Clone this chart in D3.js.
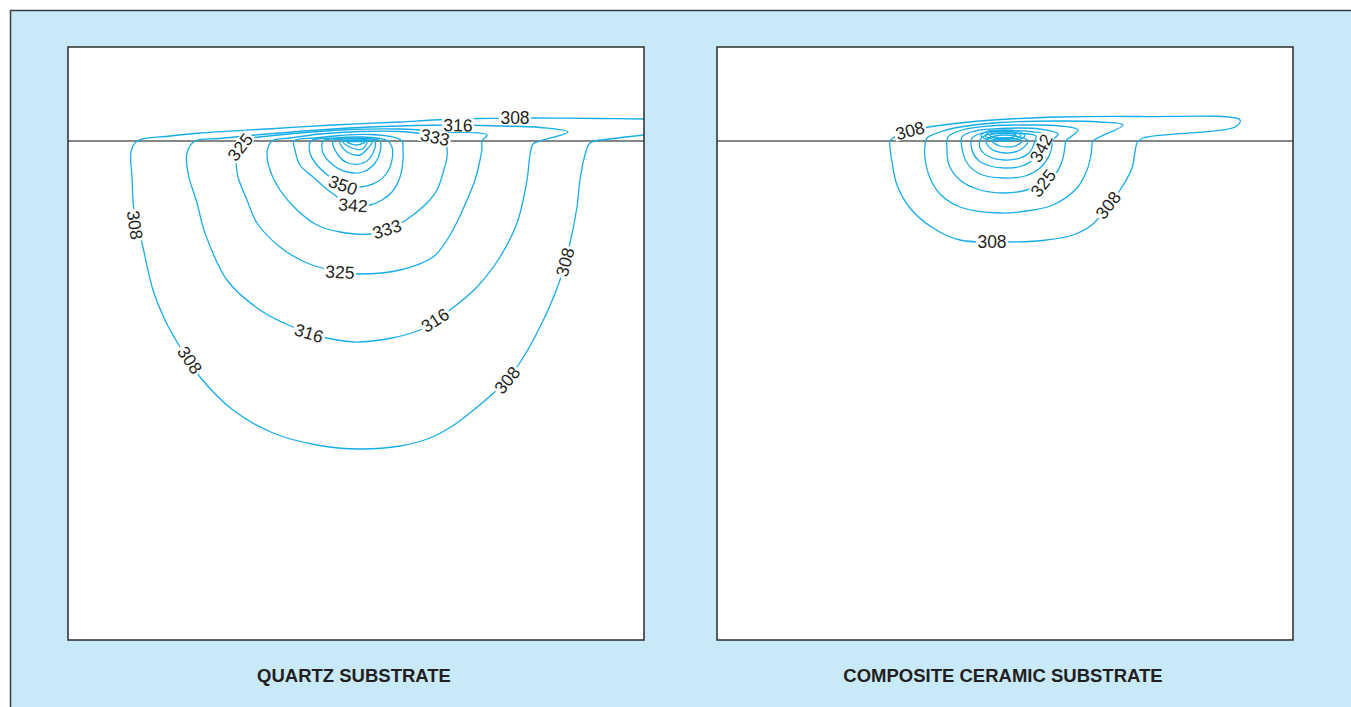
<!DOCTYPE html>
<html>
<head>
<meta charset="utf-8">
<script src="https://cdn.jsdelivr.net/npm/d3@7"></script>
<style>
  html, body { margin: 0; padding: 0; background: #fff; }
  svg { display: block; }
  .title { font-family: "Liberation Sans", Arial, Helvetica, sans-serif; font-weight: bold; font-size: 18.5px; fill: #231f20; }
  .clabel { font-family: "Liberation Sans", Arial, Helvetica, sans-serif; font-size: 17.5px; fill: #231f20; }
</style>
</head>
<body>
<svg width="1351" height="707"></svg>
<script>
// isotherms (K)
// x = lateral position in mm (0 under the heater), y = depth in mm (0 = surface, negative = air above)

// ---- quartz substrate ----
const q308 = [[2.88,-0.22],[2.44,-0.225],[1.77,-0.23],[1.24,-0.225],[0.77,-0.21],[0.44,-0.19],[-0.23,-0.16],[-0.89,-0.12],
  [-1.56,-0.08],[-1.86,-0.05],[-2.19,0],[-2.25,0.11],[-2.24,0.36],[-2.22,0.69],[-2.14,1.02],[-2.03,1.49],[-1.91,1.79],
  [-1.76,2.06],[-1.56,2.36],[-1.23,2.69],[-0.83,2.92],[-0.39,3.04],[0.04,3.08],[0.44,3.05],[0.74,2.97],[0.98,2.84],
  [1.20,2.67],[1.44,2.46],[1.61,2.26],[1.84,1.86],[2.04,1.39],[2.14,1.02],[2.21,0.66],[2.24,0.39],[2.29,0.14],[2.34,0.02],
  [2.54,-0.02],[2.88,-0.06]];
const q316 = [[1.84,0],[2.12,-0.09],[1.84,-0.135],[1.44,-0.15],[1.02,-0.16],[0.44,-0.15],[-0.23,-0.12],[-0.89,-0.07],
  [-1.36,-0.025],[-1.61,0],[-1.69,0.12],[-1.68,0.32],[-1.59,0.62],[-1.51,0.92],[-1.29,1.39],[-0.96,1.69],[-0.63,1.86],
  [-0.29,1.97],[0.04,2.01],[0.64,1.89],[0.94,1.69],[1.21,1.46],[1.44,1.16],[1.61,0.82],[1.71,0.39],[1.74,0.14],[1.77,0.03]];
const q325 = [[1.26,0],[1.31,-0.06],[0.94,-0.09],[0.44,-0.12],[-0.06,-0.115],[-0.56,-0.08],[-0.96,-0.04],[-1.19,0],
  [-1.20,0.19],[-1.18,0.36],[-1.09,0.59],[-0.99,0.82],[-0.76,1.06],[-0.49,1.22],[-0.16,1.31],[0.04,1.33],[0.44,1.29],
  [0.77,1.16],[0.91,0.99],[1.02,0.79],[1.11,0.59],[1.19,0.39],[1.24,0.19],[1.26,0.07]];
const q333 = [[0.90,0.01],[0.81,-0.04],[0.64,-0.075],[0.44,-0.095],[0.04,-0.095],[-0.36,-0.07],[-0.66,-0.03],[-0.84,0],
  [-0.89,0.12],[-0.86,0.29],[-0.76,0.49],[-0.59,0.69],[-0.39,0.84],[-0.16,0.91],[0.14,0.93],[0.31,0.88],[0.47,0.81],
  [0.57,0.74],[0.71,0.62],[0.81,0.49],[0.87,0.32],[0.91,0.16],[0.91,0.06]];
const q342 = [[0.46,0],[0.39,-0.035],[0.14,-0.065],[-0.16,-0.055],[-0.41,-0.03],[-0.62,0],[-0.61,0.09],[-0.56,0.24],
  [-0.43,0.36],[-0.28,0.49],[-0.14,0.59],[0,0.64],[0.14,0.64],[0.26,0.59],[0.36,0.51],[0.44,0.36],[0.47,0.19],[0.47,0.07]];
const q350 = [[0.32,0],[0.24,-0.025],[0.04,-0.04],[-0.21,-0.03],[-0.45,0],[-0.46,0.12],[-0.39,0.24],[-0.26,0.36],
  [-0.13,0.44],[0.04,0.46],[0.21,0.41],[0.31,0.32],[0.36,0.19],[0.36,0.06]];
const q358 = [[0.24,0],[0.16,-0.02],[-0.04,-0.03],[-0.21,-0.02],[-0.33,0],[-0.33,0.12],[-0.23,0.24],[-0.09,0.31],
  [0.07,0.31],[0.19,0.22],[0.24,0.11]];
const q366 = [[0.19,0.01],[0.09,-0.015],[-0.08,-0.02],[-0.23,0],[-0.18,0.14],[-0.08,0.22],[0.07,0.22],[0.16,0.14]];
const q375 = [[0.16,0.01],[0.04,-0.01],[-0.16,0.01],[-0.09,0.11],[0.04,0.14],[0.12,0.07]];
const q383 = [[0.11,0.01],[-0.01,0],[-0.13,0.01],[-0.04,0.07],[0.06,0.08]];
const q391 = [[0.09,0.01],[0.01,0.005],[-0.09,0.01],[0.01,0.04]];

// [value, x, y, angle]
const quartzLabels = [[308,-2.21,0.84,82],[308,-1.66,2.19,56],[308,1.51,2.39,-50],[308,2.09,1.21,-75],[308,1.59,-0.23,0],
  [316,-0.47,1.92,17],[316,0.79,1.79,-33],[316,1.02,-0.16,1],[325,-1.16,0.06,-52],[325,-0.16,1.31,3],
  [333,0.31,0.88,-18],[333,0.79,-0.04,12],[342,-0.03,0.64,4],[350,-0.13,0.44,20]];

// ---- composite ceramic substrate ----
const c308 = [[-1.15,0],[-1.05,-0.07],[-0.95,-0.105],[-0.62,-0.16],[-0.12,-0.21],[0.55,-0.24],[1.35,-0.245],[2.35,-0.21],
  [2.30,-0.14],[1.38,-0.03],[1.32,0.02],[1.30,0.11],[1.27,0.27],[1.15,0.49],[1.03,0.64],[0.88,0.83],[0.68,0.94],
  [0.42,0.99],[0.02,1.01],[-0.45,0.99],[-0.72,0.87],[-0.95,0.67],[-1.08,0.44],[-1.13,0.21],[-1.15,0.06]];
const c316 = [[0.88,0],[1.18,-0.16],[0.95,-0.19],[0.55,-0.20],[-0.05,-0.185],[-0.45,-0.14],[-0.65,-0.09],[-0.78,-0.03],
  [-0.80,0.04],[-0.80,0.17],[-0.75,0.37],[-0.65,0.53],[-0.45,0.66],[-0.05,0.72],[0.28,0.69],[0.48,0.64],[0.72,0.47],
  [0.82,0.29],[0.86,0.14],[0.87,0.04]];
const c325 = [[0.61,0],[0.73,-0.11],[0.55,-0.15],[0.25,-0.16],[-0.15,-0.15],[-0.43,-0.11],[-0.57,-0.04],[-0.58,0.09],
  [-0.56,0.24],[-0.45,0.39],[-0.28,0.48],[-0.02,0.52],[0.22,0.49],[0.40,0.41],[0.52,0.31],[0.58,0.17],[0.60,0.05]];
const c333 = [[0.47,0],[0.53,-0.07],[0.35,-0.12],[-0.05,-0.125],[-0.30,-0.10],[-0.43,-0.04],[-0.43,0.07],[-0.38,0.22],
  [-0.25,0.33],[-0.02,0.37],[0.20,0.35],[0.35,0.27],[0.44,0.15],[0.47,0.05]];
const c342 = [[0.38,0],[0.42,-0.06],[0.25,-0.095],[-0.05,-0.10],[-0.23,-0.08],[-0.33,-0.03],[-0.33,0.09],[-0.27,0.19],
  [-0.15,0.25],[0,0.27],[0.17,0.25],[0.30,0.17],[0.36,0.08]];
const c350 = [[0.30,0],[0.31,-0.05],[0.15,-0.075],[-0.07,-0.075],[-0.20,-0.055],[-0.25,-0.01],[-0.24,0.09],[-0.15,0.16],
  [0,0.19],[0.15,0.17],[0.25,0.11]];
const c358 = [[0.23,0],[0.10,-0.05],[-0.10,-0.05],[-0.19,-0.01],[-0.15,0.07],[0,0.12],[0.15,0.09]];
const c366 = [[0.17,0],[0,-0.03],[-0.13,0],[-0.05,0.05],[0.10,0.05]];
const c375 = [[0.20,-0.055],[0.14,-0.015],[-0.02,0],[-0.18,-0.015],[-0.24,-0.055],[-0.18,-0.095],[-0.02,-0.11],[0.14,-0.095]];
const c383 = [[0.16,-0.055],[0.11,-0.025],[-0.02,-0.015],[-0.15,-0.025],[-0.20,-0.055],[-0.15,-0.085],[-0.02,-0.095],[0.11,-0.085]];
const c391 = [[0.11,-0.055],[0.07,-0.035],[-0.02,-0.03],[-0.11,-0.035],[-0.15,-0.055],[-0.11,-0.075],[-0.02,-0.08],[0.07,-0.075]];

const compositeLabels = [[308,-0.95,-0.105,-15],[308,-0.13,1.01,0],[308,1.03,0.64,-52],[342,0.36,0.07,-62],[325,0.38,0.42,-52]];

const xExtent = [-2.88, 2.88];
const depthExtent = [-0.94, 4.99];

const panels = [
  { title: 'QUARTZ SUBSTRATE', left: 68, labels: quartzLabels,
    contours: [[308,q308],[316,q316],[325,q325],[333,q333],[342,q342],[350,q350],[358,q358],[366,q366],[375,q375],[383,q383],[391,q391]] },
  { title: 'COMPOSITE CERAMIC SUBSTRATE', left: 717, labels: compositeLabels,
    contours: [[308,c308],[316,c316],[325,c325],[333,c333],[342,c342],[350,c350],[358,c358],[366,c366],[375,c375],[383,c383],[391,c391]] }
];

const svg = d3.select('svg');
const panelW = 576, panelH = 593, panelTop = 47;

// outer frame
svg.append('rect')
  .attr('x', 10.5).attr('y', 10.5)
  .attr('width', 1400).attr('height', 800)
  .attr('fill', '#c7e9f8')
  .attr('stroke', '#3d3d3d')
  .attr('stroke-width', 1.5);

panels.forEach((p, i) => {
  const xScale = d3.scaleLinear().domain(xExtent).range([p.left, p.left + panelW]);
  const yScale = d3.scaleLinear().domain(depthExtent).range([panelTop, panelTop + panelH]);

  const g = svg.append('g');

  g.append('clipPath').attr('id', 'clip' + i)
    .append('rect')
      .attr('x', p.left).attr('y', panelTop)
      .attr('width', panelW).attr('height', panelH);

  g.append('rect')
    .attr('x', p.left).attr('y', panelTop)
    .attr('width', panelW).attr('height', panelH)
    .attr('fill', '#fff');

  const inner = g.append('g').attr('clip-path', `url(#clip${i})`);

  // substrate surface
  inner.append('line')
    .attr('x1', xScale(xExtent[0])).attr('x2', xScale(xExtent[1]))
    .attr('y1', yScale(0)).attr('y2', yScale(0))
    .attr('stroke', '#111')
    .attr('stroke-width', 1.2);

  const open = pts => pts.some(d => Math.abs(d[0]) >= xExtent[1]);

  inner.selectAll('path.iso').data(p.contours)
    .enter().append('path')
      .attr('class', 'iso')
      .attr('d', d => d3.line()
        .x(v => xScale(v[0]))
        .y(v => yScale(v[1]))
        .curve(open(d[1]) ? d3.curveCatmullRom.alpha(0.5) : d3.curveCatmullRomClosed.alpha(0.5))(d[1]))
      .attr('fill', 'none')
      .attr('stroke', '#17ade8')
      .attr('stroke-width', 1.3);

  const lab = inner.selectAll('g.lab').data(p.labels)
    .enter().append('g')
      .attr('class', 'lab')
      .attr('transform', d => `translate(${xScale(d[1])},${yScale(d[2])}) rotate(${d[3]})`);

  lab.append('rect')
    .attr('fill', '#fff');

  lab.append('text')
    .attr('class', 'clabel')
    .attr('text-anchor', 'middle')
    .attr('dy', '0.36em')
    .text(d => d[0]);

  lab.each(function() {
    const t = d3.select(this).select('text');
    const w = t.node().getComputedTextLength();
    d3.select(this).select('rect')
      .attr('x', -w / 2 - 1.5).attr('y', -7)
      .attr('width', w + 3).attr('height', 14);
  });

  // panel frame
  g.append('rect')
    .attr('x', p.left).attr('y', panelTop)
    .attr('width', panelW).attr('height', panelH)
    .attr('fill', 'none')
    .attr('stroke', '#2b2b2b')
    .attr('stroke-width', 1.5);

  g.append('text')
    .attr('class', 'title')
    .attr('x', p.left + panelW / 2 - 2)
    .attr('y', 682)
    .attr('text-anchor', 'middle')
    .text(p.title);
});
</script>
</body>
</html>
